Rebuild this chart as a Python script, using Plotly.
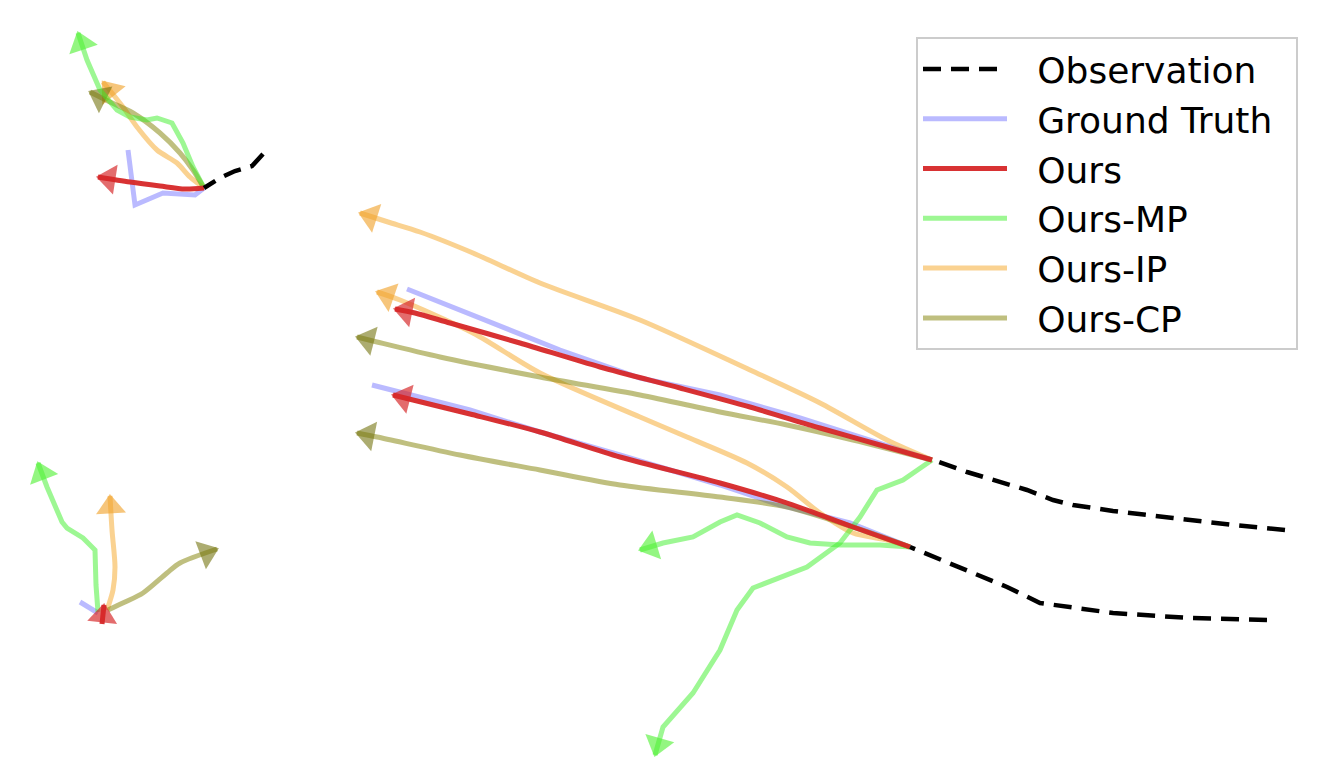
import plotly.graph_objects as go

# ---------------- data (scene coordinates) ----------------
# Scenes: A = top-left, B = bottom-left, C = centre upper, D = centre lower
OBS_X = [[263, 252, 235, 220, 204],
         [1285, 1233, 1173, 1113, 1073, 1053, 1027, 967, 933],
         [1267, 1190, 1113, 1063, 1040, 1007, 950, 910]]
OBS_Y = [[154, 166, 171, 178, 188],
         [530, 525, 518, 511, 505, 500, 490, 472, 460],
         [620, 618, 613, 606, 603, 587, 563, 547]]

GT_X = [[204, 195, 163, 135, 128],
        [98, 80],
        [932, 870, 800, 720, 640, 560, 480, 407],
        [910, 850, 780, 720, 620, 540, 470, 372]]
GT_Y = [[188, 195, 193, 205, 150],
        [613, 602],
        [460, 440, 418, 395, 378, 350, 318, 289],
        [547, 523, 505, 485, 455, 432, 410, 385]]

OURS_X = [[204, 185, 160, 130, 98],
          [102, 104],
          [932, 880, 820, 750, 680, 600, 520, 450, 415, 395],
          [910, 853, 787, 720, 620, 540, 470, 413, 393]]
OURS_Y = [[188, 189, 186, 182, 177],
          [624, 605],
          [460, 445, 428, 407, 388, 367, 343, 323, 313, 309],
          [547, 527, 503, 483, 457, 432, 414, 400, 395]]

MP_X = [[204, 193, 183, 172, 157, 147, 130, 117, 100, 87, 78],
        [98, 96, 95, 83, 67, 62, 47, 38],
        [932, 903, 877, 860, 840, 820, 807, 753, 737, 720, 693, 663, 655],
        [910, 880, 840, 810, 787, 760, 737, 720, 693, 663, 640]]
MP_Y = [[188, 167, 143, 123, 118, 120, 117, 110, 90, 60, 33],
        [612, 585, 550, 538, 528, 522, 487, 463],
        [460, 480, 490, 517, 543, 557, 567, 588, 610, 650, 693, 727, 755],
        [547, 545, 545, 543, 537, 523, 515, 522, 537, 543, 550]]

IP_X = [[204, 190, 177, 157, 137, 123, 103],
        [107, 113, 115, 112, 110],
        [932, 887, 820, 750, 640, 540, 473, 420, 388, 360],
        [910, 887, 853, 820, 787, 747, 687, 640, 540, 473, 400, 377]]
IP_Y = [[188, 177, 163, 150, 127, 107, 82],
        [610, 590, 567, 530, 496],
        [460, 440, 403, 370, 320, 283, 253, 232, 222, 213],
        [547, 540, 533, 513, 487, 463, 437, 417, 373, 333, 300, 292]]

CP_X = [[204, 193, 180, 160, 133, 110, 90],
        [108, 125, 143, 167, 180, 217],
        [932, 853, 787, 720, 640, 540, 440, 377, 357],
        [910, 853, 787, 720, 620, 540, 460, 377, 357]]
CP_Y = [[188, 170, 153, 133, 113, 102, 92],
        [610, 602, 593, 573, 563, 549],
        [460, 440, 425, 412, 395, 377, 357, 342, 337],
        [547, 527, 507, 497, 485, 470, 455, 437, 433]]

# ---------------- figure ----------------
W, H = 1330, 784
OFF = 8  # page body margin of the browser
PRE, POST = "\u2002\u2009", "\u2002"

fig = go.Figure()


def add_series(name, xs, ys, line_color, head_color, rank, width=5,
               arrows=True, smooth=True):
    for i, (x, y) in enumerate(zip(xs, ys)):
        line = dict(color=line_color, width=width)
        if smooth:
            line.update(shape="spline", smoothing=0.8)
        fig.add_trace(go.Scatter(
            x=x, y=y, mode="lines", name=PRE + name + POST, legendgroup=name,
            showlegend=(i == 0), legendrank=rank, line=line,
            hoverinfo="skip"))
        if arrows:
            sizes = [0] * (len(x) - 1) + [26]
            fig.add_trace(go.Scatter(
                x=x, y=y, mode="markers", legendgroup=name, showlegend=False,
                marker=dict(symbol="triangle-up", angleref="previous", size=sizes,
                            standoff=11, color=head_color, line=dict(width=0)),
                hoverinfo="skip"))


add_series("Ground Truth", GT_X, GT_Y, "rgba(0,0,255,0.27)", None, 2,
           arrows=False, smooth=False)
add_series("Ours-IP", IP_X, IP_Y, "rgba(245,165,35,0.5)", "rgba(240,160,40,0.88)", 5)
add_series("Ours-CP", CP_X, CP_Y, "rgba(128,128,0,0.5)", "rgba(115,115,15,0.85)", 6)
add_series("Ours-MP", MP_X, MP_Y, "rgba(60,240,40,0.5)", "rgba(80,240,50,0.88)", 4,
           smooth=False)
add_series("Ours", OURS_X, OURS_Y, "rgba(214,39,40,0.95)", "rgba(214,39,40,0.97)", 3)

for i, (x, y) in enumerate(zip(OBS_X, OBS_Y)):
    fig.add_trace(go.Scatter(
        x=x, y=y, mode="lines", name=PRE + "Observation" + POST, legendgroup="Observation",
        showlegend=(i == 0), legendrank=1,
        line=dict(color="black", width=4.5, dash="18px,10px"),
        hoverinfo="skip"))

fig.update_layout(
    width=W, height=H, autosize=False,
    margin=dict(l=0, r=0, t=0, b=0),
    paper_bgcolor="white", plot_bgcolor="white",
    xaxis=dict(range=[OFF, W + OFF], visible=False, fixedrange=True),
    yaxis=dict(range=[H + OFF, OFF], visible=False, fixedrange=True),
    font=dict(family="DejaVu Sans", color="black"),
    legend=dict(
        x=(1298 - OFF) / W, y=1 - (37 - OFF) / H, xanchor="right", yanchor="top",
        bgcolor="rgba(255,255,255,0.85)", bordercolor="#cccccc", borderwidth=2,
        font=dict(size=36, family="DejaVu Sans", color="black"),
        tracegroupgap=0, itemwidth=84,
    ),
    showlegend=True,
)

fig.write_html("out.html")
